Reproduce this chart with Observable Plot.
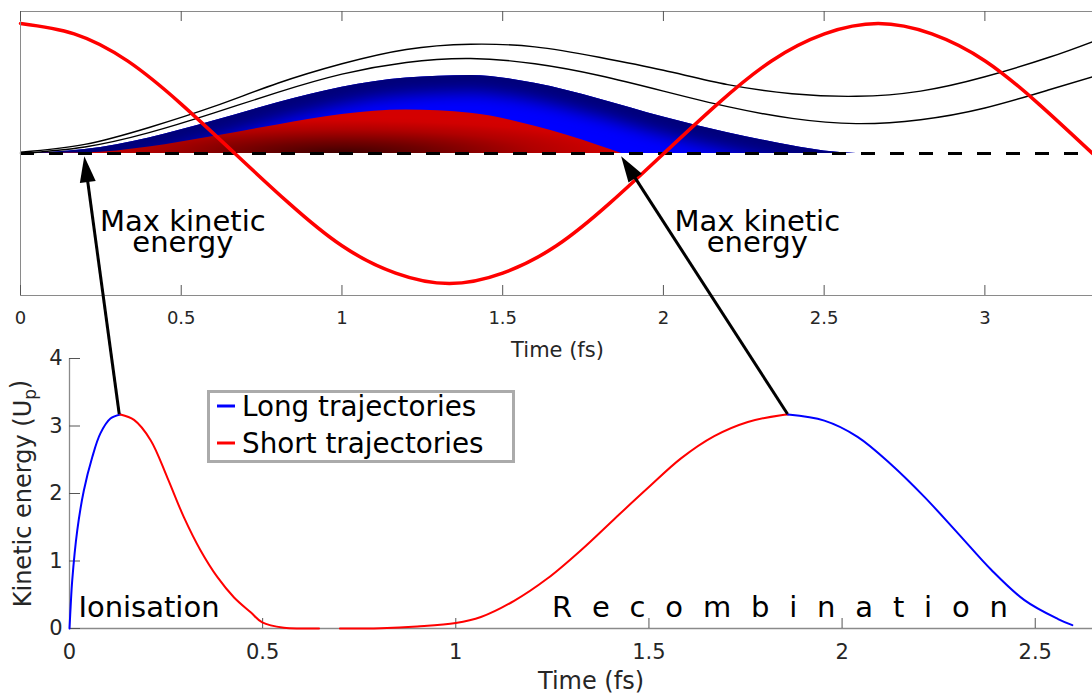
<!DOCTYPE html>
<html>
<head>
<meta charset="utf-8">
<script src="https://cdn.jsdelivr.net/npm/d3@7"></script>
<script src="https://cdn.jsdelivr.net/npm/@observablehq/plot@0.6"></script>
<style>
  html, body { margin: 0; padding: 0; background: #fff; }
  #fig { position: relative; width: 1092px; height: 696px; overflow: hidden; font-family: "DejaVu Sans", sans-serif; }
  #fig > svg { position: absolute; left: 0; max-width: none !important; background: transparent !important; overflow: visible; }
</style>
</head>
<body>
<div id="fig"></div>
<script>
// ---------- top panel: driving field and electron excursions (fs, peak field = 1) ----------
const fieldTime  = [0, 0.167, 0.334, 0.5, 0.667, 0.834, 1.0, 1.167, 1.334, 1.5, 1.667, 1.834, 2.001, 2.168, 2.335, 2.501, 2.668, 2.835, 3.002, 3.168, 3.335];
const fieldValue = [1, 0.92, 0.71, 0.38, 0, -0.38, -0.71, -0.92, -1, -0.92, -0.71, -0.38, 0, 0.38, 0.71, 0.92, 1, 0.92, 0.71, 0.38, 0];

// two electrons that never come back to the ion
const driftTime  = [0, 0.2, 0.4, 0.6, 0.8, 1.0, 1.2, 1.4, 1.6, 1.8, 2.0, 2.2, 2.4, 2.6, 2.8, 3.0, 3.2, 3.335];
const driftUpper = [0.01, 0.07, 0.2, 0.36, 0.54, 0.69, 0.8, 0.84, 0.82, 0.74, 0.64, 0.53, 0.46, 0.44, 0.48, 0.59, 0.74, 0.86];
const driftLower = [0, 0.05, 0.16, 0.31, 0.47, 0.61, 0.7, 0.73, 0.69, 0.6, 0.48, 0.36, 0.27, 0.23, 0.26, 0.35, 0.49, 0.59];

// outer edge of the long and short returning trajectories
const longTime       = [0, 0.2, 0.4, 0.6, 0.8, 1.0, 1.2, 1.4, 1.6, 1.8, 2.0, 2.2, 2.4, 2.5, 2.6];
const longExcursion  = [0, 0.03, 0.12, 0.25, 0.39, 0.51, 0.58, 0.6, 0.54, 0.42, 0.28, 0.16, 0.06, 0.02, 0];
const shortTime      = [0, 0.2, 0.4, 0.6, 0.8, 1.0, 1.2, 1.4, 1.6, 1.7, 1.8, 1.87];
const shortExcursion = [0, 0.004, 0.05, 0.13, 0.22, 0.3, 0.335, 0.31, 0.21, 0.14, 0.06, 0];

const topTicks = [0, 0.5, 1, 1.5, 2, 2.5, 3];
const noteTime = [0.505, 2.292];
const noteY    = [-0.754, -0.754];
const noteText = ["Max kinetic\nenergy", "Max kinetic\nenergy"];

// ---------- bottom panel: return energy (Up) against ionisation / recombination time ----------
const ionLongTime    = [0, 0.003, 0.007, 0.02, 0.037, 0.059, 0.08, 0.106, 0.132];
const ionLongEnergy  = [0, 0.33, 0.71, 1.45, 2.04, 2.54, 2.89, 3.11, 3.17];
const ionShortTime   = [0.132, 0.167, 0.21, 0.253, 0.296, 0.339, 0.383, 0.426, 0.469, 0.499, 0.555, 0.6, 0.646];
const ionShortEnergy = [3.17, 3.09, 2.79, 2.24, 1.65, 1.16, 0.76, 0.46, 0.24, 0.09, 0.01, 0, 0];
const recShortTime   = [0.7, 0.806, 0.9, 1.0, 1.065, 1.151, 1.237, 1.324, 1.41, 1.497, 1.583, 1.669, 1.756, 1.842, 1.86];
const recShortEnergy = [0, 0.005, 0.03, 0.08, 0.17, 0.41, 0.74, 1.16, 1.62, 2.08, 2.52, 2.85, 3.06, 3.16, 3.17];
const recLongTime    = [1.86, 1.954, 2.04, 2.127, 2.213, 2.3, 2.386, 2.472, 2.559, 2.596];
const recLongEnergy  = [3.17, 3.08, 2.84, 2.43, 1.95, 1.41, 0.87, 0.42, 0.14, 0.05];

const bottomTicksX = [0, 0.5, 1, 1.5, 2, 2.5];
const bottomTicksY = [0, 1, 2, 3, 4];
const phaseTime   = [0.023, 1.249];
const phaseEnergy = [0.163, 0.163];
const phaseText   = ["Ionisation", "R e c o m b i n a t i o n"];

const legendLabels = ["Long trajectories", "Short trajectories"];
const legendColors = ["#0000ff", "#ff0000"];

// arrows: from the energy peak (bottom panel) to the matching instant on the axis (top panel)
const arrowFromTime   = [0.13, 1.86];
const arrowFromEnergy = [3.17, 3.17];
const arrowToTime     = [0.2, 1.87];
const arrowToY        = [-0.025, -0.025];

(function draw() {
  const rows = (ts, vs) => ts.map((t, i) => ({t, v: vs[i]}));
  const fmt = d => String(d);
  const svgNS = "http://www.w3.org/2000/svg";

  // ---------- top panel ----------
  const yTop = [-1.092, 1.092];
  const topPlot = Plot.plot({
    width: 1094, height: 365,
    marginTop: 11, marginBottom: 70, marginLeft: 20, marginRight: 0,
    x: {domain: [0, 3.341]},
    y: {domain: yTop, axis: null},
    style: "font-family:'DejaVu Sans',sans-serif;font-size:18px;color:#262626;",
    marks: [
      Plot.areaY(rows(longTime, longExcursion), {x: "t", y: "v", fill: "#0000ff", curve: "monotone-x", ariaDescription: "long-fill"}),
      Plot.line(rows(longTime, longExcursion), {x: "t", y: "v", stroke: "#000078", strokeWidth: 34, curve: "monotone-x", ariaDescription: "long-shade"}),
      Plot.areaY(rows(shortTime, shortExcursion), {x: "t", y: "v", fill: "url(#short-shade)", curve: "monotone-x"}),
      Plot.line(rows(driftTime, driftUpper), {x: "t", y: "v", stroke: "black", strokeWidth: 1.4, curve: "natural"}),
      Plot.line(rows(driftTime, driftLower), {x: "t", y: "v", stroke: "black", strokeWidth: 1.4, curve: "natural"}),
      Plot.ruleY([0], {stroke: "black", strokeWidth: 3, strokeDasharray: "14,15"}),
      Plot.line(rows(fieldTime, fieldValue), {x: "t", y: "v", stroke: "#ff0000", strokeWidth: 3.5, curve: "natural"}),
      Plot.frame({stroke: "#8a8a8a"}),
      Plot.ruleX(topTicks, {x: d => d, y1: yTop[0], y2: yTop[0], insetTop: -10, stroke: "#555"}),
      Plot.ruleX(topTicks, {x: d => d, y1: yTop[1], y2: yTop[1], insetBottom: -10, stroke: "#555"}),
      Plot.axisX({ticks: topTicks, tickFormat: fmt, tickSize: 0, tickPadding: 16, label: null}),
      Plot.text(["Time (fs)"], {text: d => d, frameAnchor: "bottom", dy: 61, lineAnchor: "bottom", fontSize: 21}),
      Plot.text(noteText.map((s, i) => ({t: noteTime[i], y: noteY[i], s})), {x: "t", y: "y", text: "s", fontSize: 29, fill: "black", lineAnchor: "bottom", lineHeight: 0.72})
    ]
  });

  // ---------- bottom panel ----------
  const bottomPlot = Plot.plot({
    width: 1112, height: 396,
    marginTop: 58, marginBottom: 68, marginLeft: 69, marginRight: 0,
    x: {domain: [0, 2.7]},
    y: {domain: [0, 4]},
    style: "font-family:'DejaVu Sans',sans-serif;font-size:21px;color:#262626;",
    marks: [
      Plot.ruleY([0], {stroke: "#8a8a8a", strokeWidth: 1.3}),
      Plot.ruleX([0], {stroke: "#8a8a8a", strokeWidth: 1.3}),
      Plot.ruleX(bottomTicksX, {x: d => d, y1: 0, y2: 0, insetTop: -10, stroke: "#555"}),
      Plot.ruleY(bottomTicksY, {y: d => d, x1: 0, x2: 0, insetRight: -11, stroke: "#555"}),
      Plot.axisX({ticks: bottomTicksX, tickFormat: fmt, tickSize: 0, tickPadding: 16, label: null}),
      Plot.axisY({ticks: bottomTicksY, tickFormat: fmt, tickSize: 0, tickPadding: 7, label: null}),
      Plot.line(rows(ionLongTime, ionLongEnergy), {x: "t", y: "v", stroke: "#0000ff", strokeWidth: 2, curve: "catmull-rom"}),
      Plot.line(rows(ionShortTime, ionShortEnergy), {x: "t", y: "v", stroke: "#ff0000", strokeWidth: 2, curve: "catmull-rom"}),
      Plot.line(rows(recShortTime, recShortEnergy), {x: "t", y: "v", stroke: "#ff0000", strokeWidth: 2, curve: "catmull-rom"}),
      Plot.line(rows(recLongTime, recLongEnergy), {x: "t", y: "v", stroke: "#0000ff", strokeWidth: 2, curve: "catmull-rom"}),
      Plot.text(["Time (fs)"], {text: d => d, frameAnchor: "bottom", dy: 60, lineAnchor: "bottom", fontSize: 24}),
      Plot.text(["Kinetic energy (Up)"], {text: d => d, frameAnchor: "left", textAnchor: "middle", dx: -39, rotate: -90, lineAnchor: "bottom", fontSize: 24, ariaDescription: "energy-label"}),
      Plot.text([{t: phaseTime[0], v: phaseEnergy[0], s: phaseText[0]}], {x: "t", y: "v", text: "s", textAnchor: "start", lineAnchor: "bottom", fontSize: 29, fill: "black"}),
      Plot.text([{t: phaseTime[1], v: phaseEnergy[1], s: phaseText[1]}], {x: "t", y: "v", text: "s", textAnchor: "start", lineAnchor: "bottom", fontSize: 29, fill: "black", ariaDescription: "recombination"})
    ]
  });

  const fig = document.getElementById("fig");
  topPlot.style.top = "0px";
  bottomPlot.style.top = "300px";
  fig.appendChild(topPlot);
  fig.appendChild(bottomPlot);

  // ---------- shading of the trajectory bundles ----------
  const tx = topPlot.scale("x"), ty = topPlot.scale("y");
  const topSel = d3.select(topPlot);
  const defs = topSel.insert("defs", ":first-child");

  const shortShade = defs.append("radialGradient")
    .attr("id", "short-shade").attr("gradientUnits", "userSpaceOnUse")
    .attr("cx", 0).attr("cy", 0).attr("r", 1)
    .attr("gradientTransform", `translate(${tx.apply(1.0)},${ty.apply(0)}) scale(300,36)`);
  [[0, "#400000"], [0.3, "#700000"], [0.65, "#b00000"], [0.9, "#d00000"], [1, "#d40000"]]
    .forEach(([o, c]) => shortShade.append("stop").attr("offset", o).attr("stop-color", c));

  defs.append("filter").attr("id", "soft").attr("filterUnits", "userSpaceOnUse")
    .attr("x", 0).attr("y", 0).attr("width", 1094).attr("height", 365)
    .append("feGaussianBlur").attr("stdDeviation", 8);
  const longPath = topSel.select('g[aria-description="long-fill"] path').attr("d");
  defs.append("clipPath").attr("id", "long-clip").append("path").attr("d", longPath);
  const shadeNode = topSel.select('g[aria-description="long-shade"]').node();
  const wrap = document.createElementNS(svgNS, "g");
  shadeNode.parentNode.insertBefore(wrap, shadeNode);
  wrap.appendChild(shadeNode);
  wrap.setAttribute("clip-path", "url(#long-clip)");
  wrap.setAttribute("filter", "url(#soft)");

  // ---------- text details ----------
  const bottomSel = d3.select(bottomPlot);
  const keText = bottomSel.select('g[aria-description="energy-label"] text');
  keText.text("Kinetic energy (U");
  keText.append("tspan").attr("font-size", "70%").attr("dy", "0.3em").text("p");
  keText.append("tspan").attr("dy", "-0.3em").text(")");
  bottomSel.select('g[aria-description="recombination"]').style("letter-spacing", "5.3px");

  // ---------- overlay: legend and arrows ----------
  const bx = bottomPlot.scale("x"), by = bottomPlot.scale("y");
  const overlay = d3.select(fig).append("svg")
    .attr("width", 1092).attr("height", 696)
    .style("top", "0px").style("font-family", "'DejaVu Sans',sans-serif");

  const legend = overlay.append("g");
  legend.append("rect").attr("x", 208.5).attr("y", 391.5).attr("width", 305).attr("height", 70)
    .attr("fill", "white").attr("stroke", "#ababab").attr("stroke-width", 3);
  const legendRowY = [406, 443];
  const legendTextY = [416, 453];
  legendLabels.forEach((label, i) => {
    legend.append("line").attr("x1", 217).attr("x2", 235).attr("y1", legendRowY[i]).attr("y2", legendRowY[i])
      .attr("stroke", legendColors[i]).attr("stroke-width", 3);
    legend.append("text").attr("x", 242).attr("y", legendTextY[i]).attr("font-size", 27.8).attr("fill", "black").text(label);
  });

  arrowFromTime.forEach((t0, i) => {
    const x0 = bx.apply(t0), y0 = by.apply(arrowFromEnergy[i]) + 300;
    const x1 = tx.apply(arrowToTime[i]), y1 = ty.apply(arrowToY[i]);
    const len = Math.hypot(x1 - x0, y1 - y0);
    const ux = (x1 - x0) / len, uy = (y1 - y0) / len;
    const head = 26, half = 8;
    const hx = x1 - head * ux, hy = y1 - head * uy;
    overlay.append("line").attr("x1", x0).attr("y1", y0).attr("x2", hx + ux * 2).attr("y2", hy + uy * 2)
      .attr("stroke", "black").attr("stroke-width", 3);
    overlay.append("path")
      .attr("d", `M${x1},${y1}L${hx - half * uy},${hy + half * ux}L${hx + half * uy},${hy - half * ux}Z`)
      .attr("fill", "black");
  });
})();
</script>
</body>
</html>
